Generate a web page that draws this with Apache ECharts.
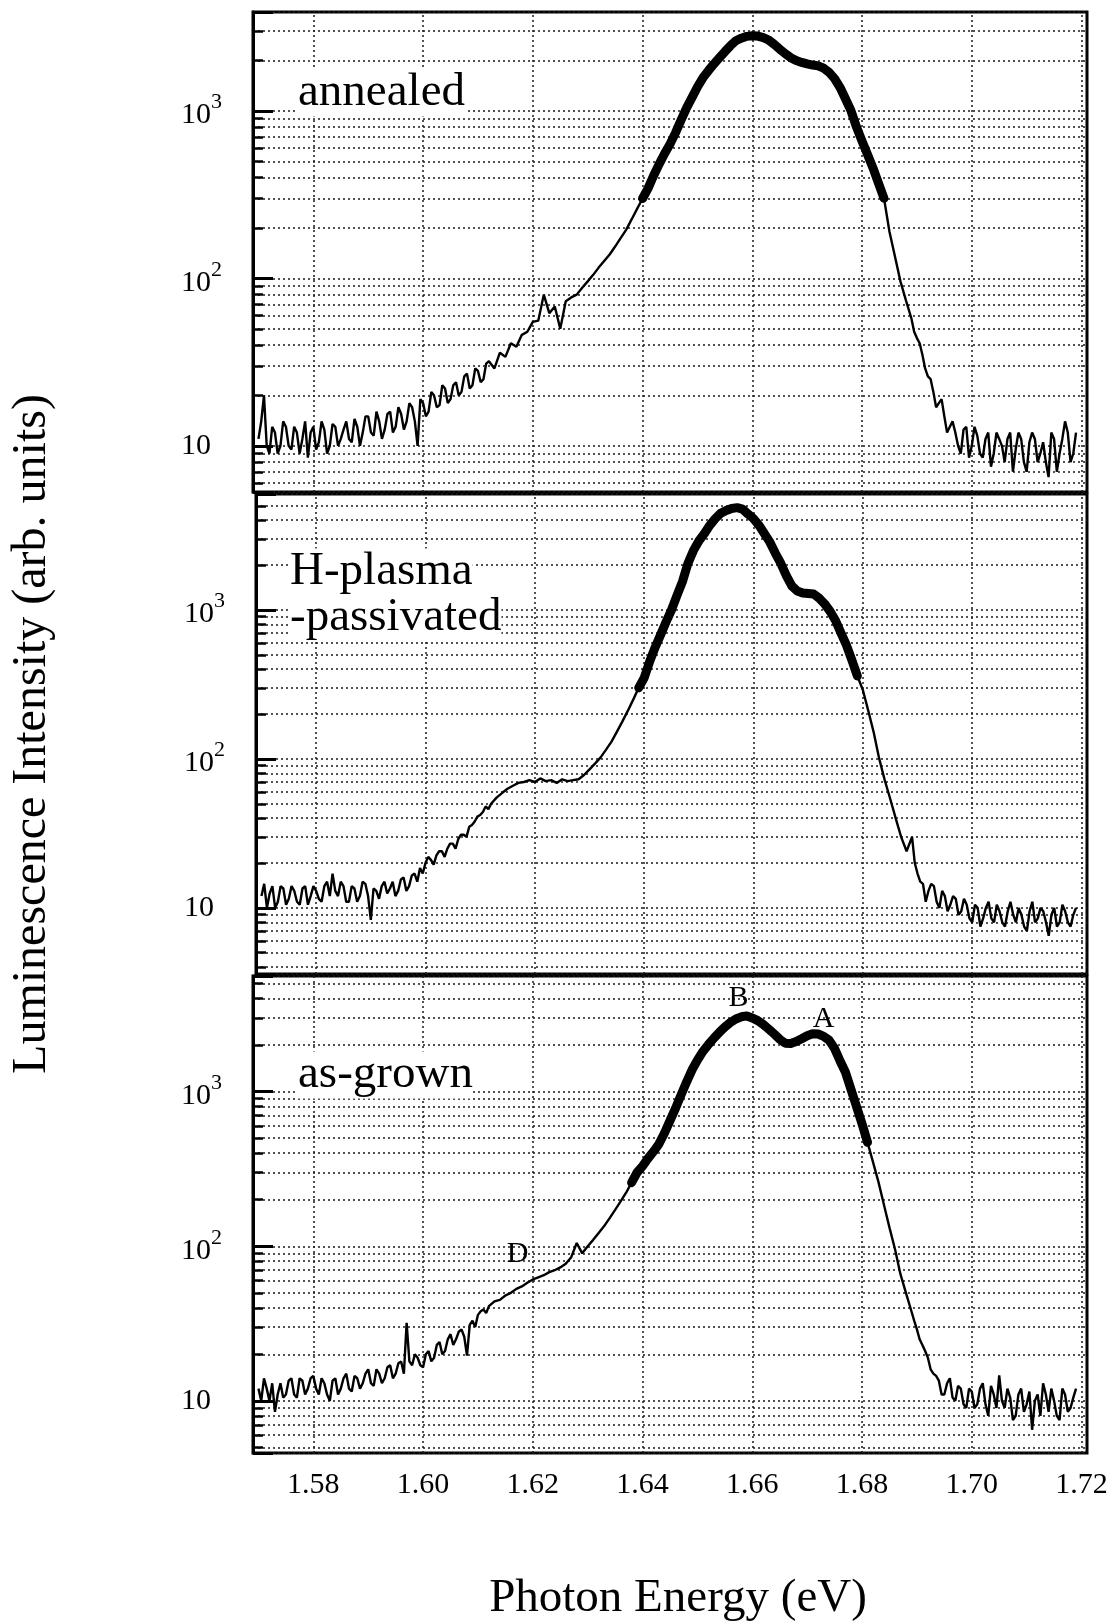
<!DOCTYPE html>
<html><head><meta charset="utf-8">
<script src="https://cdn.jsdelivr.net/npm/echarts@6/dist/echarts.min.js"></script>
<style>html,body{margin:0;padding:0;background:#fff}#c{width:1111px;height:1623px}</style>
</head><body><div id="c"></div>
<script>
// ---------- data ----------
// main sampling grid (eV)
const energies = [
 1.570,1.571,1.572,1.573,1.574,1.575,1.576,1.577,1.578,1.579,
 1.580,1.581,1.582,1.583,1.584,1.585,1.586,1.587,1.588,1.589,
 1.590,1.591,1.592,1.593,1.594,1.595,1.596,1.597,1.598,1.599,
 1.600,1.601,1.602,1.603,1.604,1.605,1.606,1.607,1.608,1.609,
 1.610,1.611,1.612,1.613,1.614,1.615,1.616,1.617,1.618,1.619,
 1.620,1.621,1.622,1.623,1.624,1.625,1.626,1.627,1.628,1.629,
 1.630,1.631,1.632,1.633,1.634,1.635,1.636,1.637,1.638,1.639,
 1.640,1.641,1.642,1.643,1.644,1.645,1.646,1.647,1.648,1.649,
 1.650,1.651,1.652,1.653,1.654,1.655,1.656,1.657,1.658,1.659,
 1.660,1.661,1.662,1.663,1.664,1.665,1.666,1.667,1.668,1.669,
 1.670,1.671,1.672,1.673,1.674,1.675,1.676,1.677,1.678,1.679,
 1.680,1.681,1.682,1.683,1.684,1.685,1.686,1.687,1.688,1.689,
 1.690,1.691,1.692,1.693,1.694,1.695,1.696,1.697,1.698,1.699,
 1.700,1.701,1.702,1.703,1.704,1.705,1.706,1.707,1.708,1.709,
 1.710,1.711,1.712,1.713,1.714,1.715,1.716,1.717,1.718,1.719
];
// extra half-step samples in the noisy tails (eV)
const energiesLowTail = [
 1.5705,1.5715,1.5725,1.5735,1.5745,1.5755,1.5765,1.5775,1.5785,1.5795,
 1.5805,1.5815,1.5825,1.5835,1.5845,1.5855,1.5865,1.5875,1.5885,1.5895,
 1.5905,1.5915,1.5925,1.5935,1.5945,1.5955,1.5965,1.5975,1.5985,1.5995,
 1.6005,1.6015,1.6025,1.6035,1.6045,1.6055,1.6065,1.6075,1.6085,1.6095,
 1.6105,1.6115
];
const energiesHighTail = [
 1.6895,1.6905,1.6915,1.6925,1.6935,1.6945,1.6955,1.6965,1.6975,1.6985,
 1.6995,1.7005,1.7015,1.7025,1.7035,1.7045,1.7055,1.7065,1.7075,1.7085,
 1.7095,1.7105,1.7115,1.7125,1.7135,1.7145,1.7155,1.7165,1.7175,1.7185
];

// annealed (top panel)
const annealed = [
 11,20,9,12,10,13,9.5,12,11,8.5,
 13,10.5,12.5,10,13,11,14,10.5,13,12,
 15,11.5,14,12.5,16,13,15.5,14,17,10,
 18,16,20,17.5,22,19,24,21,27,23,
 28,25,32,29,36,34,41,39,46,48,
 55,56,80,62,68,50,73,77,80,88,
 96,105,116,127,139,155,174,195,225,260,
 300,345,410,480,555,634,740,880,1040,1200,
 1390,1577,1740,1910,2076,2260,2450,2626,2720,2790,
 2813,2800,2740,2650,2500,2340,2200,2080,2000,1950,
 1910,1880,1860,1800,1700,1560,1380,1180,1000,800,
 661,550,456,370,301,190,135,96,74,57.6,
 44,35,26,21,18,15,13,12,9,13,
 10,11.5,8.5,12,9,11,8,12,9.5,11,
 7,12,8,10.5,6.5,11,9,14,8,12
];
const annealedLowTail = [
 14,10,13,9,14,10,13,9,14,12,
 9.5,14,9,13.5,10,12.5,11,14.5,10,15,
 12,16,11,15.5,12,17,12.5,18,14,19,
 15,21,17,23,18,23,20,26,22,29,
 24,31
];
const annealedHighTail = [
 48,41,29,25,17,19,12,14,10,12.5,
 8.5,13,9,11,7.5,12,10,11,7,12,
 8,10.5,11,9,8,12,7,11,12,9
];

// H-plasma-passivated (middle panel)
const hPassivated = [
 12,10,14,11,13.5,11.5,13,10.5,14,12,
 13,11,15,17,12,14,11,13.5,12,14.5,
 8.3,13,14,12.5,15,13,16,14,17,18.5,
 20,21,22.5,24,25,27,29,31,35,38,
 42,48,50,55,59,63,66,69,70,72,
 70,74,71,72,69,73,71,72,73,78,
 85,93,102,115,130,152,178,210,250,300,
 350,450,560,680,830,1000,1250,1550,2050,2500,
 2900,3250,3700,4100,4450,4650,4800,4860,4750,4400,
 4100,3700,3250,2850,2400,2050,1700,1450,1340,1300,
 1290,1280,1200,1100,980,850,700,580,460,360,
 290,210,150,100,72,54,40,30,24,30,
 17,14.5,13,14,10,12,10.5,11.5,9.5,10.5,
 8,10,8.5,11,8,9.5,7.5,11,8,9,
 7,11,8.5,9.5,6.5,10,8,9.5,7.5,10
];
const hPassivatedLowTail = [
 14.5,12.5,10,14,10.5,14,11,13.5,10.5,14,
 11.5,14,12,13,15,11,14,11,15,12,
 13.5,11.5,15,13.5,12,15.5,13,16.5,15,17,
 22,19.5,24,22,27,25,31,30,36,41,
 44,46
];
const hPassivatedHighTail = [
 20,15,11,14.5,11,13,9.5,12,9,11.5,
 8.5,10.5,7.5,10,8.5,10.5,8,9.5,9,10,
 7.5,9.5,8,10,8,9,7.5,10.5,8,9
];

// as-grown (bottom panel)
const asGrown = [
 12,14,10,8.5,13,11,14,10.5,13.5,12,
 14.5,11,13,10,14,12,15,11.5,14,13,
 16,12.5,15,14,17,15,18,32,17,19,
 16.5,21,19,24,21,27,25,29,19.6,33,
 36,39,41,44,45,48,50,53,55,58,
 61,63,65,68,70,73,77,85,105,90,
 100,110,122,135,152,172,195,222,258,300,
 330,370,410,460,540,650,780,950,1150,1380,
 1600,1820,2020,2220,2420,2620,2800,2950,3050,3090,
 3000,2880,2720,2540,2360,2180,2060,2050,2110,2200,
 2300,2370,2360,2280,2150,1900,1580,1330,1030,800,
 620,470,350,260,185,132,96,66,50,38,
 29,23,19,15,13.5,11,14,10,12,9,
 11.5,9.5,13,8,11,14.6,9,10.5,8,12,
 9.5,6.5,11,13,8.5,10,7.5,11,9,12
];
const asGrownLowTail = [
 10,12,13,11,10.5,13.5,11,14,11,14,
 12,14,11,13.5,11,14,12,14.5,12,15,
 13,16,13,16.5,14,17.5,15,18,20,17,
 20,18,23,20,25,23,28,26,31,30,
 38,37
];
const asGrownHighTail = [
 33,25,21,16,14.5,11,13,10.5,12.5,9.5,
 12,9,12,9.5,12.5,9,10,12,7.5,11,
 8.5,11.5,10,8,11,12,8,12,8.5,10.5
];

const panelSeries = [
  [annealed, annealedLowTail, annealedHighTail],
  [hPassivated, hPassivatedLowTail, hPassivatedHighTail],
  [asGrown, asGrownLowTail, asGrownHighTail]
];
const panelLabels = [['annealed'], ['H-plasma', '-passivated'], ['as-grown']];
const thickRanges = [[1.640, 1.684], [1.639, 1.679], [1.638, 1.681]];
const xTicks = [1.58, 1.60, 1.62, 1.64, 1.66, 1.68, 1.70, 1.72];
const xTickLabels = ['1.58', '1.60', '1.62', '1.64', '1.66', '1.68', '1.70', '1.72'];
const xRange = [1.569, 1.721];
const yRanges = [[5.3, 3900], [3.6, 6000], [4.6, 5600]];
const yTickValues = [10, 100, 1000];
const yTickLabels = ['10', '{b|10}{s|2}', '{b|10}{s|3}'];
const peakMarks = [['B', 1.6575, 4050], ['A', 1.673, 2960], ['D', 1.6172, 89]];

// ---------- layout ----------
const FONT = '"Liberation Serif", "Times New Roman", serif';
const GRID_LEFT = 253, GRID_W = 834, GRID_H = 480;
const GRID_TOPS = [12, 494, 976];
const dotted = { color: '#1a1a1a', width: 1.5, type: [2, 3] };

function pairs(e, v) { return e.map((x, k) => [x, v[k]]); }

const grids = [], xAxes = [], yAxes = [], series = [], graphics = [];
GRID_TOPS.forEach((top, i) => {
  grids.push({ left: GRID_LEFT, width: GRID_W, top: top, height: GRID_H,
    show: true, borderColor: '#000', borderWidth: 3, backgroundColor: 'transparent' });
  xAxes.push({
    gridIndex: i, type: 'value', min: xRange[0], max: xRange[1],
    axisLine: { show: false }, splitLine: { show: false },
    axisTick: { show: true, customValues: xTicks, inside: true, length: GRID_H, lineStyle: dotted },
    axisLabel: { show: i === 2, customValues: xTicks, margin: 17,
      fontFamily: FONT, fontSize: 30, color: '#000',
      formatter: v => { const k = xTicks.findIndex(t => Math.abs(t - v) < 1e-6); return k >= 0 ? xTickLabels[k] : ''; } },
    name: i === 2 ? 'Photon Energy (eV)' : '', nameLocation: 'middle', nameGap: 122,
    nameTextStyle: { fontFamily: FONT, fontSize: 47, color: '#000', padding: [0, 0, 0, 16] }
  });
  yAxes.push({
    gridIndex: i, type: 'log', logBase: 10, min: yRanges[i][0], max: yRanges[i][1],
    axisLine: { show: true, lineStyle: { color: '#000', width: 3 } },
    axisTick: { show: true, inside: true, length: 20, lineStyle: { color: '#000', width: 3 } },
    minorTick: { show: true, splitNumber: 9, length: 10, lineStyle: { color: '#000', width: 2.5 } },
    splitLine: { show: true, lineStyle: dotted },
    minorSplitLine: { show: true, lineStyle: dotted },
    axisLabel: { align: 'left', margin: 72, fontFamily: FONT, fontSize: 30, color: '#000',
      rich: {
        b: { fontFamily: FONT, fontSize: 30, color: '#000', padding: [9, 0, 0, 0], verticalAlign: 'bottom' },
        s: { fontFamily: FONT, fontSize: 22, color: '#000', verticalAlign: 'top' }
      },
      formatter: v => { const k = yTickValues.findIndex(t => Math.abs(t - v) / t < 1e-6); return k >= 0 ? yTickLabels[k] : ''; } },
    name: i === 1 ? 'Luminescence Intensity (arb. units)' : '', nameLocation: 'middle', nameGap: 200,
    nameTextStyle: { fontFamily: FONT, fontSize: 48, color: '#000' }
  });
  const [main, low, high] = panelSeries[i];
  const mainPairs = pairs(energies, main);
  const full = mainPairs.concat(pairs(energiesLowTail, low), pairs(energiesHighTail, high))
    .sort((a, b) => a[0] - b[0]);
  const thick = mainPairs.filter(p => p[0] >= thickRanges[i][0] - 1e-9 && p[0] <= thickRanges[i][1] + 1e-9);
  const thin = { type: 'line', xAxisIndex: i, yAxisIndex: i, data: full, symbol: 'none',
    lineStyle: { color: '#000', width: 2.4 }, z: 5, silent: true };
  if (i === 2) {
    thin.markPoint = { symbol: 'circle', symbolSize: 0, silent: true,
      label: { show: true, position: 'inside', formatter: '{b}', fontFamily: FONT, fontSize: 30, color: '#000' },
      data: peakMarks.map(m => ({ name: m[0], coord: [m[1], m[2]] })) };
  }
  series.push(thin);
  series.push({ type: 'line', xAxisIndex: i, yAxisIndex: i, data: thick, symbol: 'none',
    lineStyle: { color: '#000', width: 9, join: 'round', cap: 'round' }, z: 6, silent: true });
});

const labelY = [[93], [572, 618], [1075]];
const labelX = [298, 290, 298];
panelLabels.forEach((lines, i) => {
  lines.forEach((t, j) => {
    graphics.push({ type: 'text', x: labelX[i], y: labelY[i][j], z: 20,
      style: { text: t, font: '47px ' + FONT, fill: '#000', verticalAlign: 'middle', align: 'left',
        backgroundColor: '#fff' } });
  });
});

const chart = echarts.init(document.getElementById('c'), null, { renderer: 'canvas' });
chart.setOption({
  animation: false,
  backgroundColor: '#fff',
  grid: grids, xAxis: xAxes, yAxis: yAxes, series: series, graphic: graphics
});
</script></body></html>
